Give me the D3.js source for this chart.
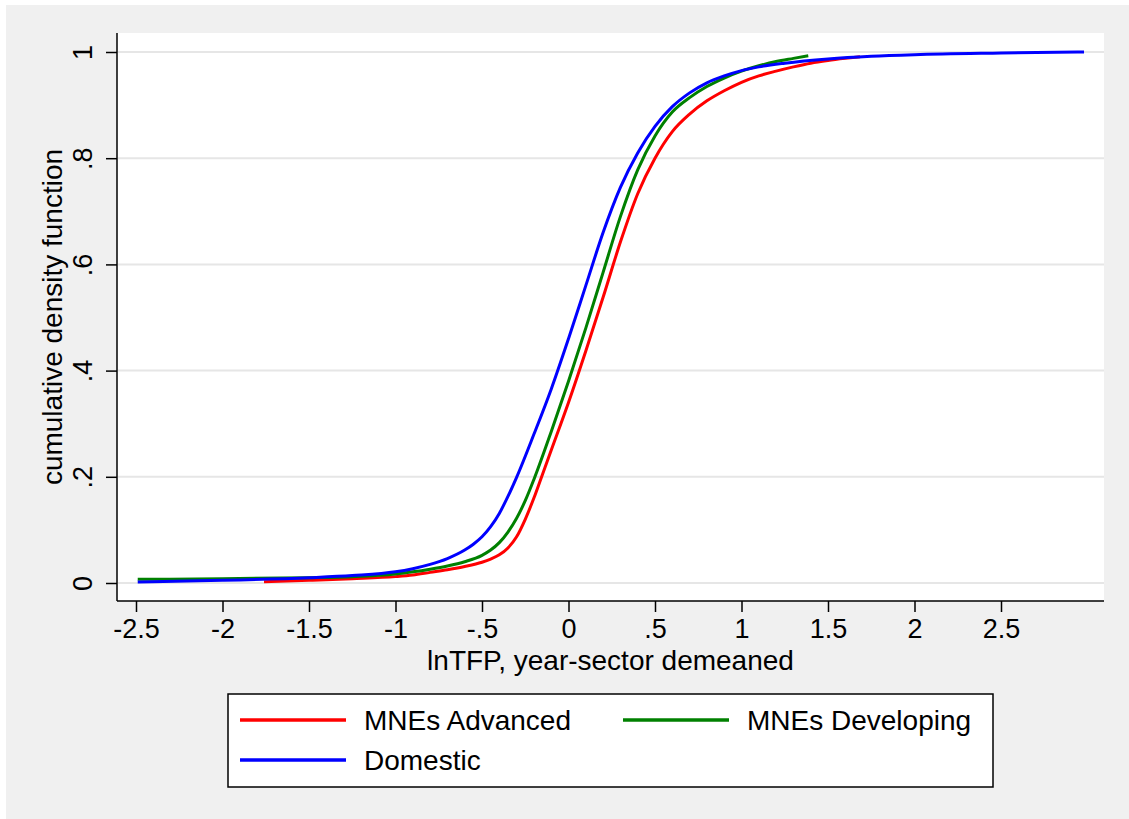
<!DOCTYPE html>
<html>
<head>
<meta charset="UTF-8">
<title>cumulative density function</title>
<style>
  body { margin: 0; background: #fff; }
  svg { display: block; font-family: "Liberation Sans", Arial, Helvetica, sans-serif; }
</style>
</head>
<body>
<svg width="1129" height="819"></svg>
<script src="https://cdn.jsdelivr.net/npm/d3@7/dist/d3.min.js"></script>
<script>
// series names, legend order
var seriesNames = ["MNEs Advanced", "MNEs Developing", "Domestic"];

// [lnTFP, cdf]
var mneAdvanced = [[-1.76,0.0025],[-1.5,0.005],[-1.25,0.008],[-1.0,0.012],[-0.9,0.015],[-0.8,0.020],
  [-0.7,0.025],[-0.6,0.031],[-0.5,0.039],[-0.45,0.045],[-0.4,0.053],[-0.35,0.066],[-0.3,0.087],
  [-0.25,0.12],[-0.2,0.16],[-0.15,0.205],[-0.1,0.25],[0.0,0.34],[0.1,0.437],[0.2,0.538],
  [0.3,0.642],[0.4,0.733],[0.5,0.80],[0.6,0.85],[0.7,0.883],[0.8,0.908],[0.9,0.927],[1.0,0.943],
  [1.1,0.955],[1.2,0.964],[1.3,0.972],[1.4,0.979],[1.5,0.984],[1.6,0.988],[1.685,0.991]];
var mneDeveloping = [[-2.49,0.007],[-2.0,0.008],[-1.5,0.010],[-1.25,0.012],[-1.0,0.017],[-0.9,0.021],
  [-0.8,0.026],[-0.7,0.032],[-0.6,0.040],[-0.5,0.052],[-0.45,0.062],[-0.4,0.076],[-0.35,0.096],
  [-0.3,0.122],[-0.25,0.155],[-0.2,0.195],[-0.1,0.285],[0.0,0.38],[0.1,0.48],[0.2,0.585],[0.3,0.69],
  [0.4,0.778],[0.5,0.842],[0.6,0.887],[0.7,0.914],[0.8,0.935],[0.9,0.951],[1.0,0.964],[1.1,0.974],
  [1.2,0.982],[1.3,0.988],[1.386,0.993]];
var domestic = [[-2.49,0.002],[-2.0,0.005],[-1.5,0.010],[-1.25,0.014],[-1.0,0.021],[-0.9,0.027],
  [-0.8,0.035],[-0.7,0.046],[-0.6,0.062],[-0.55,0.073],[-0.5,0.087],[-0.45,0.106],[-0.4,0.131],
  [-0.35,0.163],[-0.3,0.199],[-0.2,0.28],[-0.1,0.365],[0.0,0.46],[0.1,0.56],[0.2,0.66],[0.3,0.745],
  [0.4,0.81],[0.5,0.86],[0.6,0.897],[0.7,0.923],[0.8,0.942],[0.9,0.955],[1.0,0.965],[1.1,0.972],
  [1.25,0.979],[1.5,0.987],[1.75,0.992],[2.0,0.995],[2.5,0.998],[2.98,1.0]];

var xTicks = [-2.5, -2, -1.5, -1, -0.5, 0, 0.5, 1, 1.5, 2, 2.5];
var xTickLabels = ["-2.5", "-2", "-1.5", "-1", "-.5", "0", ".5", "1", "1.5", "2", "2.5"];
var yTicks = [0, 0.2, 0.4, 0.6, 0.8, 1];
var yTickLabels = ["0", ".2", ".4", ".6", ".8", "1"];

var colors = ["#ff0000", "#008000", "#0000ff"];
var allSeries = [mneAdvanced, mneDeveloping, domestic];

var svg = d3.select("svg");

// graph region
svg.append("rect").attr("x", 6).attr("y", 5).attr("width", 1123).attr("height", 814).attr("fill", "#f0f0f0");

var plotL = 117, plotR = 1104, plotT = 33, plotB = 601;
svg.append("rect").attr("x", plotL).attr("y", plotT)
  .attr("width", plotR - plotL).attr("height", plotB - plotT).attr("fill", "#fff");

var x = d3.scaleLinear().domain([-2.5, 2.5]).range([136, 1001]);
var y = d3.scaleLinear().domain([0, 1]).range([583, 52]);

// gridlines
svg.append("g").selectAll("line").data(yTicks).join("line")
  .attr("x1", plotL + 1).attr("x2", plotR)
  .attr("y1", function(d) { return y(d); }).attr("y2", function(d) { return y(d); })
  .attr("stroke", "#e6e6e6").attr("stroke-width", 2);

// curves
var line = d3.line()
  .x(function(d) { return x(d[0]); })
  .y(function(d) { return y(d[1]); })
  .curve(d3.curveMonotoneX);

svg.append("g").selectAll("path").data(allSeries).join("path")
  .attr("d", line)
  .attr("fill", "none")
  .attr("stroke", function(d, i) { return colors[i]; })
  .attr("stroke-width", 3)
  .attr("stroke-linejoin", "round");

// y axis
var yAxis = svg.append("g").attr("transform", "translate(" + plotL + ",0)")
  .call(d3.axisLeft(y).tickValues(yTicks).tickSize(11).tickSizeOuter(0)
    .tickFormat(function(d, i) { return yTickLabels[i]; }));
yAxis.select(".domain").attr("d", "M0," + plotT + "V" + plotB);
yAxis.selectAll("text")
  .attr("x", null).attr("dy", null)
  .attr("transform", "translate(-25,0) rotate(-90)")
  .attr("text-anchor", "middle")
  .attr("font-size", 27).attr("fill", "#000");

// x axis
var xAxis = svg.append("g").attr("transform", "translate(0," + plotB + ")")
  .call(d3.axisBottom(x).tickValues(xTicks).tickSize(11).tickSizeOuter(0)
    .tickFormat(function(d, i) { return xTickLabels[i]; }));
xAxis.select(".domain").attr("d", "M" + plotL + ",0H" + plotR);
xAxis.selectAll("text")
  .attr("y", 37).attr("dy", null)
  .attr("font-size", 27).attr("fill", "#000");

svg.selectAll(".domain, .tick line").attr("stroke", "#000").attr("stroke-width", 1.5);

// axis titles
svg.append("text")
  .attr("x", (plotL + plotR) / 2).attr("y", 670)
  .attr("text-anchor", "middle").attr("font-size", 28)
  .text("lnTFP, year-sector demeaned");

svg.append("text")
  .attr("transform", "translate(62," + (plotT + plotB) / 2 + ") rotate(-90)")
  .attr("text-anchor", "middle").attr("font-size", 28)
  .text("cumulative density function");

// legend
var legend = svg.append("g");
legend.append("rect")
  .attr("x", 228).attr("y", 694).attr("width", 765).attr("height", 93)
  .attr("fill", "#fff").attr("stroke", "#000").attr("stroke-width", 1.5);

var legendPos = [[240, 720], [623, 720], [240, 760]];
var items = legend.selectAll("g.item").data(seriesNames).join("g")
  .attr("class", "item")
  .attr("transform", function(d, i) { return "translate(" + legendPos[i][0] + "," + legendPos[i][1] + ")"; });
items.append("line")
  .attr("x1", 0).attr("x2", 106).attr("y1", 0).attr("y2", 0)
  .attr("stroke", function(d, i) { return colors[i]; }).attr("stroke-width", 3.5);
items.append("text")
  .attr("x", 124).attr("y", 10)
  .attr("font-size", 28)
  .text(function(d) { return d; });
</script>
</body>
</html>
